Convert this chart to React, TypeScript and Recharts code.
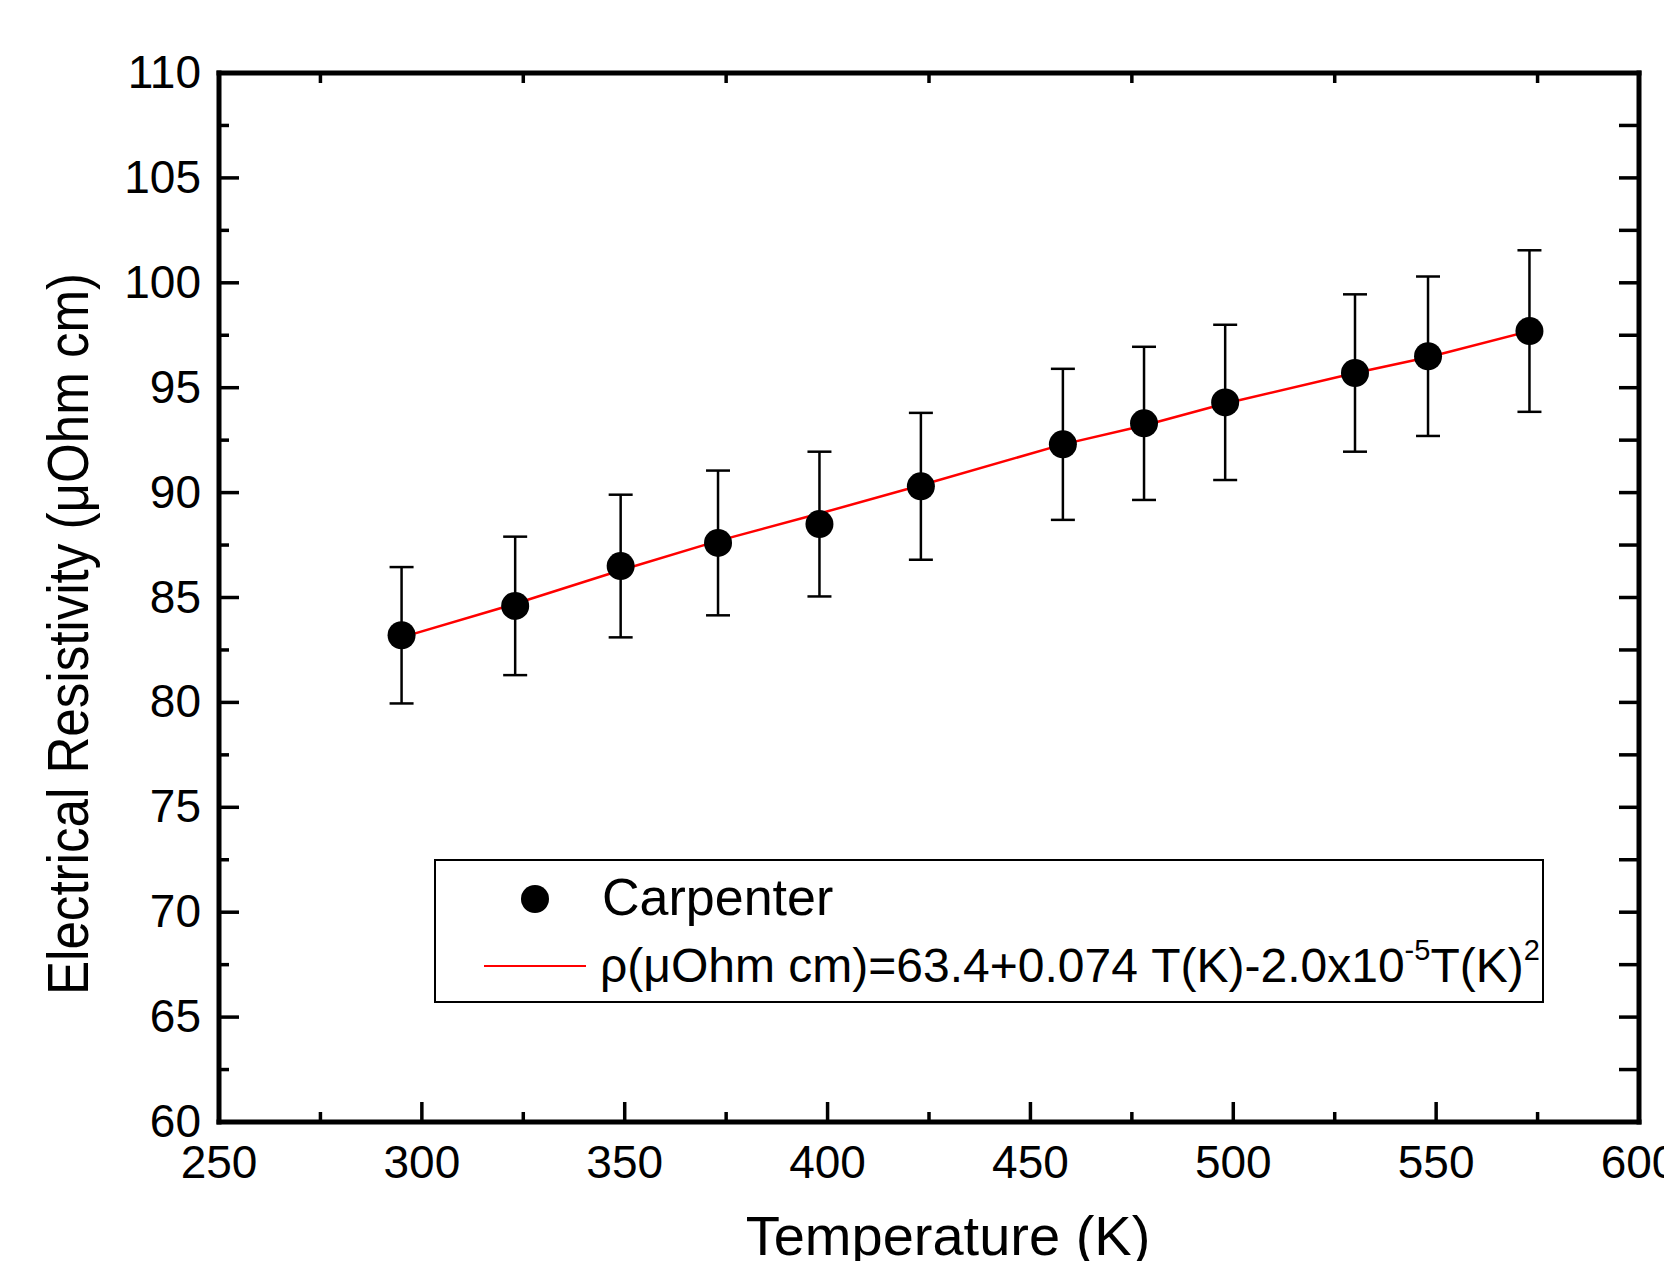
import { ComposedChart, Scatter, Line, XAxis, YAxis, ErrorBar, Legend, Label } from "recharts";

const FONT = "'Liberation Sans', Arial, Helvetica, sans-serif";

// measured points (T in K, rho in µOhm cm, +/- error)
const temperatures = [295, 323, 349, 373, 398, 423, 458, 478, 498, 530, 548, 573];
const resistivity = [83.2, 84.6, 86.5, 87.6, 88.5, 90.3, 92.3, 93.3, 94.3, 95.7, 96.5, 97.7];
const resistivityErr = [3.25, 3.3, 3.4, 3.45, 3.45, 3.5, 3.6, 3.65, 3.7, 3.75, 3.8, 3.85];

// red fit curve
const fitTemperatures = [295, 323, 349, 373, 398, 423, 458, 478, 498, 530, 548, 573];
const fitResistivity = [83.1, 84.7, 86.3, 87.7, 89.0, 90.35, 92.3, 93.2, 94.25, 95.7, 96.45, 97.7];

const xTicks = [250, 275, 300, 325, 350, 375, 400, 425, 450, 475, 500, 525, 550, 575, 600];
const xTopTicks = [275, 325, 375, 425, 475, 525, 575];
const yTicks = [60, 62.5, 65, 67.5, 70, 72.5, 75, 77.5, 80, 82.5, 85, 87.5, 90, 92.5, 95, 97.5, 100, 102.5, 105, 107.5, 110];

const points = temperatures.map((t, i) => ({ t, rho: resistivity[i], err: resistivityErr[i] }));
const fit = fitTemperatures.map((t, i) => ({ t, rho: fitResistivity[i] }));

const AXIS_LINE = { stroke: "#000", strokeWidth: 5, strokeLinecap: "square" as const };

function BottomTick({ x, y, payload }: any) {
  const major = payload.value % 50 === 0;
  return (
    <g>
      <line x1={x} x2={x} y1={y} y2={y - (major ? 20 : 10)} stroke="#000" strokeWidth={3.5} />
      {major && (
        <text x={x} y={y + 56} textAnchor="middle" fontSize={46} fontFamily={FONT} fill="#000">
          {payload.value}
        </text>
      )}
    </g>
  );
}

function TopTick({ x, y }: any) {
  return <line x1={x} x2={x} y1={y} y2={y + 10} stroke="#000" strokeWidth={3.5} />;
}

function LeftTick({ x, y, payload }: any) {
  const major = payload.value % 5 === 0;
  return (
    <g>
      <line x1={x} x2={x + (major ? 20 : 10)} y1={y} y2={y} stroke="#000" strokeWidth={3.5} />
      {major && (
        <text x={x - 18} y={y + 15} textAnchor="end" fontSize={46} fontFamily={FONT} fill="#000">
          {payload.value}
        </text>
      )}
    </g>
  );
}

function RightTick({ x, y }: any) {
  return <line x1={x} x2={x - 20} y1={y} y2={y} stroke="#000" strokeWidth={3.5} />;
}

function Dot({ cx, cy }: any) {
  return <circle cx={cx} cy={cy} r={14} fill="#000" />;
}

function LegendBox() {
  return (
    <svg width={1110} height={144} style={{ display: "block" }}>
      <rect x={1} y={1} width={1108} height={142} fill="#fff" stroke="#000" strokeWidth={2} />
      <circle cx={101} cy={40} r={14} fill="#000" />
      <text x={168} y={56} fontSize={52} fontFamily={FONT} fill="#000">Carpenter</text>
      <line x1={50} x2={152} y1={107} y2={107} stroke="#ff0000" strokeWidth={2} />
      <text x={166} y={123} fontSize={48} fontFamily={FONT} fill="#000">
        <tspan>ρ(μOhm cm)=63.4+0.074 T(K)-2.0x10</tspan>
        <tspan dy={-22} fontSize={29}>-5</tspan>
        <tspan dy={22}>T(K)</tspan>
        <tspan dy={-22} fontSize={29}>2</tspan>
      </text>
    </svg>
  );
}

export default function App() {
  return (
    <div style={{ width: 1664, height: 1253, background: "#fff" }}>
      <ComposedChart width={1664} height={1253} margin={{ top: 64, right: 32, bottom: 138, left: 111 }}>
        <XAxis
          xAxisId="b"
          type="number"
          dataKey="t"
          domain={[250, 600]}
          ticks={xTicks}
          interval={0}
          height={1}
          tickSize={0}
          tickMargin={0}
          tickLine={false}
          axisLine={AXIS_LINE}
          tick={<BottomTick />}
          allowDataOverflow
        >
          <Label
            content={() => (
              <text x={940} y={1247} textAnchor="middle" fontSize={56} fontFamily={FONT} fill="#000">
                Temperature (K)
              </text>
            )}
          />
        </XAxis>
        <XAxis
          xAxisId="top"
          orientation="top"
          type="number"
          dataKey="t"
          domain={[250, 600]}
          ticks={xTopTicks}
          interval={0}
          height={1}
          tickSize={0}
          tickMargin={0}
          tickLine={false}
          axisLine={AXIS_LINE}
          tick={<TopTick />}
          allowDataOverflow
        />
        <YAxis
          yAxisId="l"
          type="number"
          dataKey="rho"
          domain={[60, 110]}
          ticks={yTicks}
          interval={0}
          width={100}
          tickSize={0}
          tickMargin={0}
          tickLine={false}
          axisLine={AXIS_LINE}
          tick={<LeftTick />}
          allowDataOverflow
        >
          <Label
            content={() => (
              <text
                x={80}
                y={626}
                transform="rotate(-90 80 626)"
                textAnchor="middle"
                fontSize={58}
                textLength={722}
                lengthAdjust="spacingAndGlyphs"
                fontFamily={FONT}
                fill="#000"
              >
                Electrical Resistivity (μOhm cm)
              </text>
            )}
          />
        </YAxis>
        <YAxis
          yAxisId="r"
          orientation="right"
          type="number"
          dataKey="rho"
          domain={[60, 110]}
          ticks={yTicks}
          interval={0}
          width={1}
          tickSize={0}
          tickMargin={0}
          tickLine={false}
          axisLine={AXIS_LINE}
          tick={<RightTick />}
          allowDataOverflow
        />
        <Scatter
          xAxisId="b"
          yAxisId="l"
          name="Carpenter"
          data={points}
          dataKey="rho"
          fill="#000"
          shape={<Dot />}
          isAnimationActive={false}
        >
          <ErrorBar dataKey="err" direction="y" width={12} stroke="#000" strokeWidth={2.5} />
        </Scatter>
        <Scatter
          xAxisId="top"
          yAxisId="r"
          data={points}
          dataKey="rho"
          fill="none"
          shape={() => <g />}
          legendType="none"
          isAnimationActive={false}
        />
        <Line
          xAxisId="b"
          yAxisId="l"
          data={fit}
          dataKey="rho"
          type="linear"
          stroke="#ff0000"
          strokeWidth={2.5}
          dot={false}
          activeDot={false}
          isAnimationActive={false}
        />
        <Legend
          layout="vertical"
          align="center"
          verticalAlign="middle"
          content={() => <LegendBox />}
          wrapperStyle={{ left: 426, top: 851, width: 1110, height: 144 }}
        />
      </ComposedChart>
    </div>
  );
}
